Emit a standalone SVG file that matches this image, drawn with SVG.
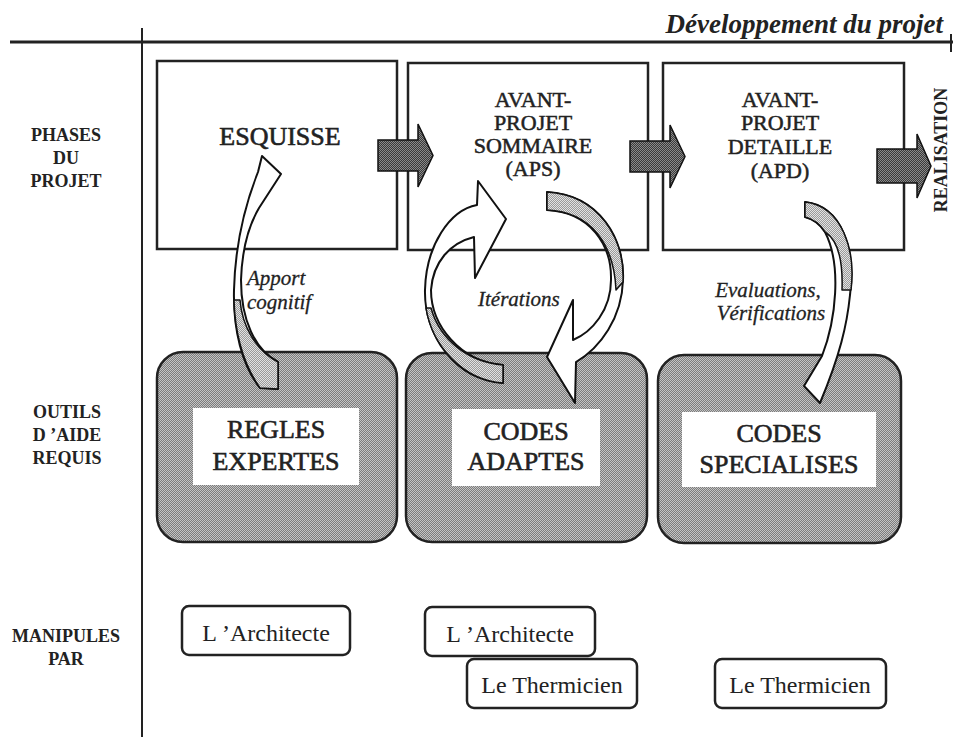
<svg xmlns="http://www.w3.org/2000/svg" width="953" height="737" viewBox="0 0 953 737">
<defs>
<pattern id="pBox" width="2" height="2" patternUnits="userSpaceOnUse"><rect width="2" height="2" fill="#7c7c7c"/><rect width="1" height="1" fill="#c4c4c4"/><rect x="1" y="1" width="1" height="1" fill="#c4c4c4"/></pattern>
<pattern id="pDark" width="2" height="2" patternUnits="userSpaceOnUse"><rect width="2" height="2" fill="#3a3a3a"/><rect width="1" height="1" fill="#8a8a8a"/><rect x="1" y="1" width="1" height="1" fill="#8a8a8a"/></pattern>
<pattern id="pLight" width="2" height="2" patternUnits="userSpaceOnUse"><rect width="2" height="2" fill="#9a9a9a"/><rect width="1" height="1" fill="#e2e2e2"/><rect x="1" y="1" width="1" height="1" fill="#e2e2e2"/></pattern>
</defs>
<style>
.phase{fill:#fff;stroke:#222;stroke-width:2.5}
.tool{fill:url(#pBox);stroke:#222;stroke-width:2.5}
.inner{fill:#fff}
.lbl{fill:#fff;stroke:#222;stroke-width:2.5}
.block{fill:url(#pDark);stroke:#111;stroke-width:1.5}
.rib{fill:#fff;stroke:#111;stroke-width:2;stroke-linejoin:round}
.shade{fill:url(#pLight);stroke:#111;stroke-width:1.5;stroke-linejoin:round}
.side{font-family:"Liberation Serif",serif;font-weight:bold;font-size:18px;fill:#222;text-anchor:middle}
.big{font-family:"Liberation Serif",serif;font-size:26px;fill:#222;stroke:#222;stroke-width:0.6;text-anchor:middle}
.mid{font-family:"Liberation Serif",serif;font-size:22px;fill:#222;stroke:#222;stroke-width:0.5;text-anchor:middle}
.it{font-family:"Liberation Serif",serif;font-style:italic;font-size:21px;fill:#222;stroke:#222;stroke-width:0.3}
.who{font-family:"Liberation Serif",serif;font-size:24px;fill:#222;text-anchor:middle}
</style>

<g id="axes">
<line x1="10" y1="42" x2="953" y2="42" stroke="#222" stroke-width="3"/>
<line x1="142" y1="28" x2="142" y2="737" stroke="#222" stroke-width="2"/>
<line x1="951" y1="34" x2="951" y2="52" stroke="#222" stroke-width="2"/>
<text x="943" y="33" font-family="Liberation Serif, serif" font-weight="bold" font-style="italic" font-size="27" fill="#222" text-anchor="end">Développement du projet</text>
</g>

<g id="side-labels">
<text class="side" x="66" y="141">PHASES</text>
<text class="side" x="66" y="164">DU</text>
<text class="side" x="66" y="187">PROJET</text>
<text class="side" x="67" y="418">OUTILS</text>
<text class="side" x="67" y="441">D ’AIDE</text>
<text class="side" x="67" y="464">REQUIS</text>
<text class="side" x="66" y="642">MANIPULES</text>
<text class="side" x="66" y="665">PAR</text>
</g>

<g id="esquisse">
<rect class="phase" x="157" y="61" width="240" height="188"/>
<text class="big" x="280" y="145">ESQUISSE</text>
</g>
<g id="aps">
<rect class="phase" x="408" y="63" width="240" height="187"/>
<text class="mid" x="533" y="107">AVANT-</text>
<text class="mid" x="533" y="130">PROJET</text>
<text class="mid" x="533" y="153">SOMMAIRE</text>
<text class="mid" x="533" y="176">(APS)</text>
</g>
<g id="apd">
<rect class="phase" x="663" y="63" width="241" height="187"/>
<text class="mid" x="780" y="107">AVANT-</text>
<text class="mid" x="780" y="130">PROJET</text>
<text class="mid" x="780" y="154">DETAILLE</text>
<text class="mid" x="780" y="178">(APD)</text>
</g>
<g id="realisation">
<text transform="translate(947,150) rotate(-90)" font-family="Liberation Serif, serif" font-weight="bold" font-size="18" fill="#222" text-anchor="middle">REALISATION</text>
</g>

<g id="regles">
<rect class="tool" x="157" y="352" width="240" height="190" rx="26"/>
<rect class="inner" x="193" y="408" width="166" height="77"/>
<text class="big" x="276" y="438">REGLES</text>
<text class="big" x="276" y="470">EXPERTES</text>
</g>
<g id="codes-adaptes">
<rect class="tool" x="406" y="353" width="241" height="189" rx="26"/>
<rect class="inner" x="452" y="409" width="148" height="77"/>
<text class="big" x="526" y="440">CODES</text>
<text class="big" x="526" y="470">ADAPTES</text>
</g>
<g id="codes-specialises">
<rect class="tool" x="658" y="355" width="243" height="188" rx="26"/>
<rect class="inner" x="682" y="412" width="194" height="75"/>
<text class="big" x="779" y="442">CODES</text>
<text class="big" x="779" y="473">SPECIALISES</text>
</g>

<g id="architecte-1">
<rect class="lbl" x="182" y="606" width="168" height="49" rx="7"/>
<text class="who" x="266" y="641">L ’Architecte</text>
</g>
<g id="architecte-2">
<rect class="lbl" x="425" y="607" width="170" height="49" rx="7"/>
<text class="who" x="510" y="642">L ’Architecte</text>
</g>
<g id="thermicien-1">
<rect class="lbl" x="467" y="659" width="170" height="49" rx="7"/>
<text class="who" x="552" y="693">Le Thermicien</text>
</g>
<g id="thermicien-2">
<rect class="lbl" x="715" y="659" width="171" height="49" rx="7"/>
<text class="who" x="800" y="693">Le Thermicien</text>
</g>

<g id="connectors">
<path class="block" d="M378,140 H418 V124 L433,155.5 L418,187 V171 H378 Z"/>
<path class="block" d="M630,141 H670 V125 L685,156.5 L670,188 V172 H630 Z"/>
<path class="block" d="M877,149 H917 V134 L931,166 L917,198 V183 H877 Z"/>

<path class="rib" d="M260,388 C242,365 233,330 234,290 C235,250 243,210 258,172 L262,156 L281,174 L259,208 C249,225 242,250 241,280 C241,320 255,350 278,362 L278,389 Z"/>
<path class="shade" d="M234,300 C235,335 244,365 260,388 L278,389 L278,362 C255,350 242,325 240,300 Z"/>

<path class="rib" d="M478,181 L506,219 L475,278 L474,237 C450,243 433,262 431,290 C431,325 460,362 503,365 L503,383 C455,380 424,335 425,290 C426,245 450,210 477,205 Z"/>
<path class="shade" d="M426,308 C432,345 462,380 503,383 L503,365 C468,362 440,340 431,308 Z"/>

<path class="rib" d="M547,192 C600,195 625,240 623,280 C622,318 600,348 576,362 L575,403 L547,357 L573,300 L573,340 C592,332 611,310 611,280 C612,245 590,212 547,210 Z"/>
<path class="shade" d="M547,192 C600,195 625,240 623,282 L616,290 C614,245 592,212 547,210 Z"/>

<path class="rib" d="M805,202 C842,206 856,250 850,295 C847,325 840,355 820,403 L804,386 L822,356 C836,320 842,265 825,232 C820,224 813,219 805,217 Z"/>
<path class="shade" d="M805,202 C842,206 856,250 851,290 L842,290 C843,262 838,240 825,232 C820,224 813,219 805,217 Z"/>
</g>

<g id="connector-labels">
<text class="it" x="247" y="285">Apport</text>
<text class="it" x="247" y="309">cognitif</text>
<text class="it" x="478" y="306">Itérations</text>
<text class="it" x="768" y="297" text-anchor="middle">Evaluations,</text>
<text class="it" x="771" y="320" text-anchor="middle">Vérifications</text>
</g>
</svg>
